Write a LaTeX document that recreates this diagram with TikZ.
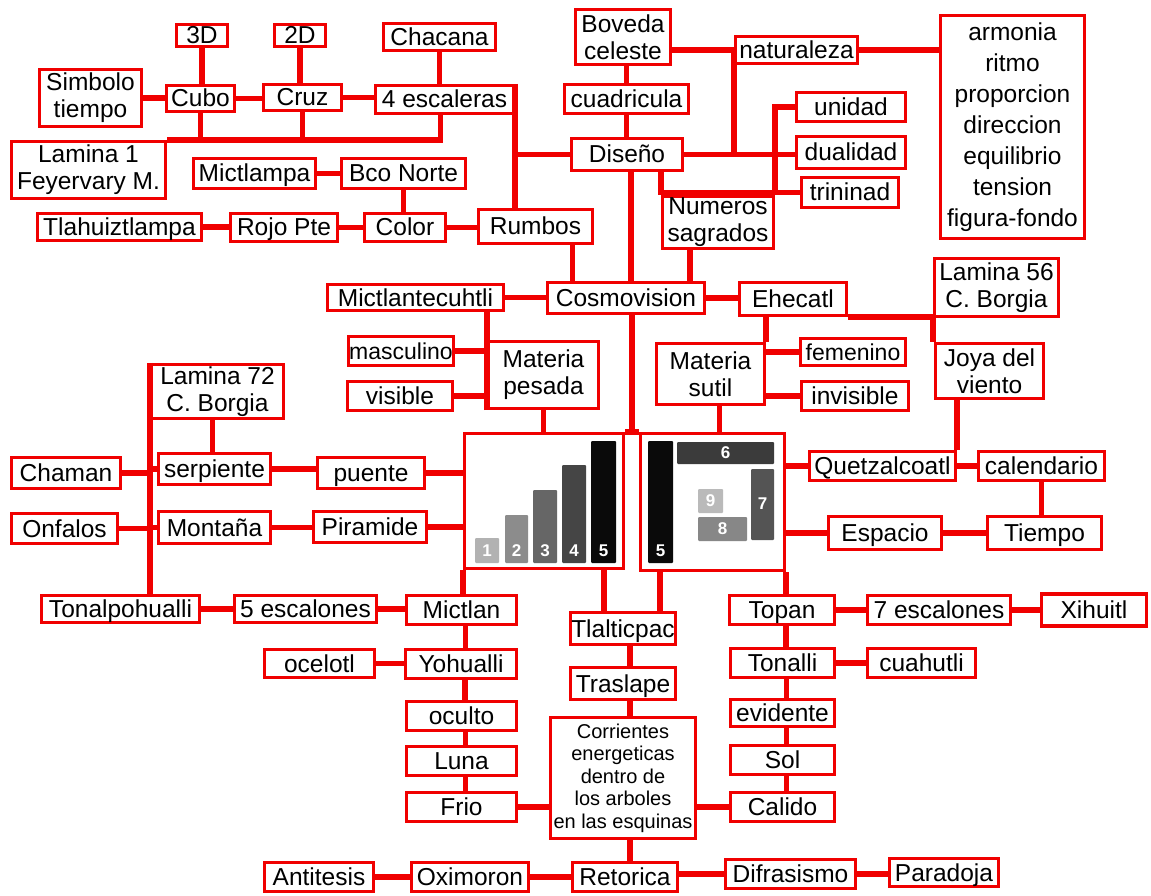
\documentclass[tikz,border=0pt]{standalone}
\usepackage{fontspec}
\setmainfont{Liberation Sans}
\usetikzlibrary{backgrounds}
\definecolor{rd}{HTML}{F00000}
\newcommand\mapfont{\fontsize{24.5}{27}\selectfont}
\newcommand\narrowfont{\fontsize{23}{27}\selectfont}
\newcommand\smallmapfont{\fontsize{20}{22.5}\selectfont}
\newcommand\listfont{\fontsize{24.5}{31}\selectfont}
\newcommand\numfont{\fontsize{17}{17}\selectfont\bfseries}
\begin{document}
\begin{tikzpicture}[x=1pt,y=-1pt,
  boxbase/.style={draw=rd, line width=3.4pt, fill=white, inner sep=0pt},
  sl/.style={boxbase, font=\mapfont, text height=17.5pt, text depth=0.5pt},
  ml/.style={boxbase, font=\mapfont, align=center},
  bw/.style={minimum width=#1pt},
  bh/.style={minimum height=#1pt},
  wire/.style={draw=rd, line width=5.5pt},
  num/.style={text=white, font=\numfont, inner sep=0pt}]
\useasboundingbox (0,0) rectangle (1151,896);

% ---- upper left: cube, cross, stairs and directions
\node[sl,bw=51,bh=22] (td) at (202,35.5) {3D};
\node[sl,bw=51,bh=22] (dd) at (300,35.5) {2D};
\node[sl,bw=112,bh=27] (chac) at (439.5,37) {Chacana};
\node[ml,bw=102,bh=57] (simb) at (90.5,98) {Simbolo\\tiempo};
\node[sl,bw=68,bh=26] (cubo) at (200.5,98.5) {Cubo};
\node[sl,bw=78,bh=26] (cruz) at (302.5,97.5) {Cruz};
\node[sl,bw=138,bh=28] (esc4) at (444.5,99.5) {4 escaleras};
\node[ml,bw=154,bh=57] (lam1) at (88.5,170) {Lamina 1\\Feyervary M.};
\node[sl,bw=122,bh=30] (micp) at (254.5,173.5) {Mictlampa};
\node[sl,bw=124,bh=30] (bco) at (403.5,173.5) {Bco Norte};
\node[sl,bw=164,bh=27] (tlah) at (119.5,227) {Tlahuiztlampa};
\node[sl,bw=107,bh=28] (rojo) at (284,227.5) {Rojo Pte};
\node[sl,bw=81,bh=28] (colr) at (405,227.5) {Color};
\node[sl,bw=114,bh=34] (rumb) at (535.5,226.5) {Rumbos};

% ---- upper right: design
\node[ml,bw=95,bh=55] (bov) at (623,37) {Boveda\\celeste};
\node[sl,bw=122,bh=27] (nat) at (796.5,50) {naturaleza};
\node[boxbase,font=\listfont,align=center,bw=144,bh=223] (arm) at (1012.5,127)
  {armonia\\ritmo\\proporcion\\direccion\\equilibrio\\tension\\figura-fondo};
\node[sl,bw=124,bh=29] (cuad) at (626.5,99) {cuadricula};
\node[sl,bw=109,bh=29] (unid) at (851,107) {unidad};
\node[sl,bw=111,bh=32] (dis) at (627,154.5) {Diseño};
\node[sl,bw=109,bh=32] (dual) at (851,152.5) {dualidad};
\node[sl,bw=97,bh=30] (trin) at (850,192.5) {trininad};
\node[ml,bw=111,bh=52] (num) at (718,222.5) {Numeros\\sagrados};

% ---- cosmovision row
\node[sl,bw=176,bh=26] (mict) at (415.5,297.5) {Mictlantecuhtli};
\node[sl,bw=157,bh=31] (cosmo) at (626,298) {Cosmovision};
\node[sl,bw=107,bh=33] (ehe) at (793,299) {Ehecatl};
\node[ml,bw=124,bh=58] (lam56) at (996.5,287.5) {Lamina 56\\C. Borgia};
\node[sl,bw=105,bh=29,font=\narrowfont] (masc) at (401,351) {masculino};
\node[ml,bw=110,bh=67] (mpes) at (543.5,375) {Materia\\pesada};
\node[ml,bw=108,bh=61] (msut) at (710.5,374) {Materia\\sutil};
\node[sl,bw=105,bh=27,font=\narrowfont] (fem) at (853,352) {femenino};
\node[ml,bw=108,bh=55] (joya) at (989.5,371) {Joya del\\viento};
\node[ml,bw=132,bh=54] (lam72) at (217.5,391.5) {Lamina 72\\C. Borgia};
\node[sl,bw=105,bh=29] (vis) at (400,396) {visible};
\node[sl,bw=107,bh=29] (inv) at (855,396) {invisible};

% ---- middle band
\node[sl,bw=109,bh=31] (cham) at (66,473) {Chaman};
\node[sl,bw=112,bh=31] (serp) at (214.5,469) {serpiente};
\node[sl,bw=107,bh=31] (pue) at (371,473) {puente};
\node[sl,bw=146,bh=29] (quet) at (882.5,466) {Quetzalcoatl};
\node[sl,bw=126,bh=29] (calen) at (1041.5,466) {calendario};
\node[sl,bw=106,bh=30] (onf) at (64.5,528.5) {Onfalos};
\node[sl,bw=112,bh=32] (mont) at (214.5,527.5) {Montaña};
\node[sl,bw=113,bh=31] (pir) at (370,527) {Piramide};
\node[sl,bw=113,bh=33] (esp) at (885,533) {Espacio};
\node[sl,bw=114,bh=33] (tiem) at (1044.5,533) {Tiempo};
\node[boxbase,bw=159,bh=135] (lpic) at (544,501) {};
\node[boxbase,bw=144,bh=137] (rpic) at (712.5,502) {};

% ---- lower part
\node[sl,bw=158,bh=27] (tonal) at (120.5,609) {Tonalpohualli};
\node[sl,bw=142,bh=27] (esc5) at (305.5,609) {5 escalones};
\node[sl,bw=110,bh=29] (mictlan) at (461.5,610) {Mictlan};
\node[sl,bw=105,bh=32] (tlal) at (623,628.5) {Tlalticpac};
\node[sl,bw=105,bh=29] (topan) at (782,610) {Topan};
\node[sl,bw=143,bh=29] (esc7) at (939,610) {7 escalones};
\node[sl,bw=105,bh=32] (xih) at (1094,610) {Xihuitl};
\node[sl,bw=110,bh=28] (ocel) at (319.5,663.5) {ocelotl};
\node[sl,bw=111,bh=29] (yoh) at (461,664) {Yohualli};
\node[sl,bw=104,bh=29] (tonalli) at (782.5,663) {Tonalli};
\node[sl,bw=108,bh=29] (cuah) at (921.5,663) {cuahutli};
\node[sl,bw=105,bh=32] (tras) at (623,683.5) {Traslape};
\node[sl,bw=110,bh=29] (ocul) at (461.5,716) {oculto};
\node[sl,bw=104,bh=27] (evid) at (782.5,713) {evidente};
\node[boxbase,font=\smallmapfont,align=center,bw=145,bh=121] (corr) at (623,778)
  {Corrientes\\energeticas\\dentro de\\los arboles\\en las esquinas};
\node[sl,bw=110,bh=29] (luna) at (461.5,761) {Luna};
\node[sl,bw=104,bh=29] (sol) at (782.5,760) {Sol};
\node[sl,bw=110,bh=29] (frio) at (461.5,807) {Frio};
\node[sl,bw=104,bh=29] (calid) at (782.5,807) {Calido};
\node[sl,bw=109,bh=29] (anti) at (319,877) {Antitesis};
\node[sl,bw=117,bh=29] (oxi) at (470,877) {Oximoron};
\node[sl,bw=105,bh=29] (ret) at (625,877) {Retorica};
\node[sl,bw=130,bh=29] (difr) at (790.5,874) {Difrasismo};
\node[sl,bw=109,bh=28] (para) at (944,872.5) {Paradoja};

% ---- bars inside the two central panels
\fill[black!30, rounded corners=1pt] (475,538) rectangle (499,563);
\fill[black!45, rounded corners=1pt] (505,515) rectangle (528,563);
\fill[black!60, rounded corners=1pt] (533,490) rectangle (557,563);
\fill[black!73, rounded corners=1pt] (562,465) rectangle (586,563);
\fill[black!96, rounded corners=1pt] (591,441) rectangle (616,563);
\node[num] (n1) at (487,551) {1};
\node[num] (n2) at (516.5,551) {2};
\node[num] (n3) at (545,551) {3};
\node[num] (n4) at (574,551) {4};
\node[num] (n5) at (603.5,551) {5};

\fill[black!96, rounded corners=1pt] (648,441) rectangle (673,563);
\fill[black!77, rounded corners=1pt] (677,442) rectangle (774,464);
\fill[black!67, rounded corners=1pt] (751,469) rectangle (774,540);
\fill[black!27, rounded corners=1pt] (698,489) rectangle (723,513);
\fill[black!47, rounded corners=1pt] (698,517) rectangle (747,541);
\node[num] (m5) at (660.5,551) {5};
\node[num] (m6) at (725.5,453) {6};
\node[num] (m7) at (762.5,504) {7};
\node[num] (m9) at (710.5,501) {9};
\node[num] (m8) at (722.5,529) {8};

% ---- connectors, under the boxes
\begin{scope}[on background layer]
\fill[white] (0,0) rectangle (1151,896);
\draw[wire] (td.south) -- (td.south |- cubo.north);
\draw[wire] (dd.south) -- (dd.south |- cruz.north);
\draw[wire] (chac.south) -- (chac.south |- esc4.north);
\draw[wire] (simb.east) -- (simb.east -| cubo.west);
\draw[wire] (cubo.east) -- (cubo.east -| cruz.west);
\draw[wire] (cruz.east) -- (cruz.east -| esc4.west);
\draw[wire] ([xshift=-4pt]esc4.south) |- (lam1.north east);
\draw[wire] (cubo.south) -- (cubo.south |- lam1.north);
\draw[wire] (cruz.south) -- (cruz.south |- lam1.north);
\draw[wire] (esc4.north east) -- (esc4.north east |- rumb.north);
\draw[wire] (esc4.east |- dis.west) -- (dis.west);
\draw[wire] (micp.east) -- (micp.east -| bco.west);
\draw[wire] (bco.south) -- (bco.south |- colr.north);
\draw[wire] (tlah.east) -- (tlah.east -| rojo.west);
\draw[wire] (rojo.east) -- (rojo.east -| colr.west);
\draw[wire] (colr.east) -- (colr.east -| rumb.west);
\draw[wire] ([xshift=37pt]rumb.south) -- ([xshift=37pt]rumb.south |- cosmo.north);
\draw[wire] (cuad.north) -- (cuad.north |- bov.south);
\draw[wire] (cuad.south) -- (cuad.south |- dis.north);
\draw[wire] (nat.west) -- (nat.west -| bov.east);
\draw[wire] (nat.east) -- (nat.east -| arm.west);
\draw[wire] (nat.west) -- (nat.west |- dual.west);
\draw[wire] (dis.east) -- (dis.east -| dual.west);
\draw[wire] (unid.west) -| (num.north east);
\draw[wire] (num.north west |- dis.south) |- (trin.west);
\draw[wire] ([xshift=-28pt]num.south) -- ([xshift=-28pt]num.south |- cosmo.north);
\draw[wire] ([xshift=4pt]dis.south) -- ([xshift=4pt]dis.south |- cosmo.north);
\draw[wire] (mict.east) -- (mict.east -| cosmo.west);
\draw[wire] (cosmo.east) -- (cosmo.east -| ehe.west);
\draw[wire] (ehe.south east) -- (ehe.south east -| lam56.west);
\draw[wire] (lam56.south west) -- (lam56.south west |- joya.north);
\draw[wire] (quet.north east) -- (quet.north east |- joya.south);
\draw[wire] (quet.east) -- (quet.east -| calen.west);
\draw[wire] (calen.south) -- (calen.south |- tiem.north);
\draw[wire] (esp.east) -- (esp.east -| tiem.west);
\draw[wire] (quet.west) -- (quet.west -| rpic.east);
\draw[wire] (esp.west) -- (esp.west -| rpic.east);
\draw[wire] (msut.north east) -- (msut.north east |- ehe.south);
\draw[wire] (fem.west) -- (fem.west -| msut.east);
\draw[wire] (inv.west) -- (inv.west -| msut.east);
\draw[wire] ([xshift=9pt]msut.south) -- ([xshift=9pt]msut.south |- rpic.north);
\draw[wire] ([xshift=6pt]cosmo.south) -- ([xshift=6pt]cosmo.south |- lpic.north);
\draw[wire] (lpic.north east) -- (rpic.north west);
\draw[wire] (mpes.south west) -- (mpes.south west |- mict.south);
\draw[wire] (masc.east) -- (masc.east -| mpes.west);
\draw[wire] (vis.east) -- (vis.east -| mpes.west);
\draw[wire] (mpes.south) -- (mpes.south |- lpic.north);
\draw[wire] (pue.east) -- (pue.east -| lpic.west);
\draw[wire] (pir.east) -- (pir.east -| lpic.west);
\draw[wire] (lpic.south west) -- (lpic.south west |- mictlan.north);
\draw[wire] ([xshift=-19pt]tlal.north) -- ([xshift=-19pt]tlal.north |- lpic.south);
\draw[wire] ([xshift=37pt]tlal.north) -- ([xshift=37pt]tlal.north |- rpic.south);
\draw[wire] (rpic.south east) -- (rpic.south east |- topan.north);
\draw[wire] (serp.east) -- (serp.east -| pue.west);
\draw[wire] (mont.east) -- (mont.east -| pir.west);
\draw[wire] ([xshift=-5pt]lam72.south) -- ([xshift=-5pt]lam72.south |- serp.north);
\draw[wire] (lam72.north west) -- (lam72.north west |- tonal.north);
\draw[wire] (cham.east) -- (cham.east -| lam72.west);
\draw[wire] (onf.east) -- (onf.east -| lam72.west);
\draw[wire] (serp.west) -- (serp.west -| lam72.west);
\draw[wire] (mont.west) -- (mont.west -| lam72.west);
\draw[wire] (tonal.east) -- (tonal.east -| esc5.west);
\draw[wire] (esc5.east) -- (esc5.east -| mictlan.west);
\foreach \a/\b in {mictlan/yoh, yoh/ocul, ocul/luna, luna/frio}
  \draw[wire] ([xshift=4pt]\a.south) -- ([xshift=4pt]\a.south |- \b.north);
\draw[wire] (ocel.east) -- (ocel.east -| yoh.west);
\draw[wire] (frio.east) -- (frio.east -| corr.west);
\foreach \a/\b in {tlal/tras, tras/corr, corr/ret}
  \draw[wire] ([xshift=7pt]\a.south) -- ([xshift=7pt]\a.south |- \b.north);
\draw[wire] (ret.west) -- (ret.west -| oxi.east);
\draw[wire] (oxi.west) -- (oxi.west -| anti.east);
\draw[wire] (difr.west) -- (difr.west -| ret.east);
\draw[wire] (difr.east) -- (difr.east -| para.west);
\draw[wire] (topan.east) -- (topan.east -| esc7.west);
\draw[wire] (esc7.east) -- (esc7.east -| xih.west);
\foreach \a/\b in {topan/tonalli, tonalli/evid, evid/sol, sol/calid}
  \draw[wire] ([xshift=4pt]\a.south) -- ([xshift=4pt]\a.south |- \b.north);
\draw[wire] (tonalli.east) -- (tonalli.east -| cuah.west);
\draw[wire] (calid.west) -- (calid.west -| corr.east);
\end{scope}
\end{tikzpicture}
\end{document}
